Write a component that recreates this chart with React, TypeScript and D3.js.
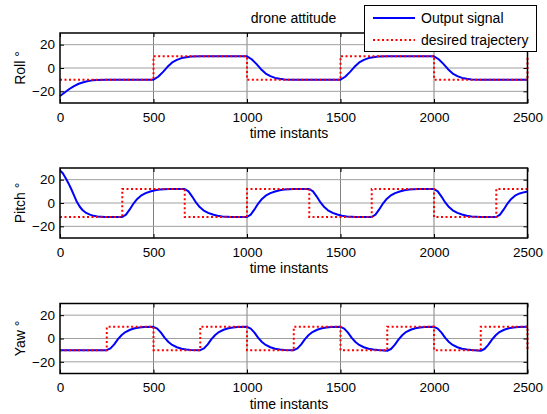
import React, { useRef, useEffect } from "react";
import * as d3 from "d3";

// ---- data ----
const xTicks = [0, 500, 1000, 1500, 2000, 2500];
const yTicks = [-20, 0, 20];

// [time instant, degrees]
const rollOutput: [number, number][] = [
  [0, -24], [25, -21], [50, -18], [75, -15.5], [100, -13.5], [125, -12.2], [150, -11.2], [175, -10.6], [200, -10.2], [250, -10], [500, -10],
  [525, -7.5], [550, -3.5], [575, 1], [600, 4.8], [625, 7], [650, 8.5], [675, 9.3], [700, 9.8], [750, 10], [1000, 10],
  [1025, 7.5], [1050, 3.5], [1075, -1], [1100, -4.8], [1125, -7], [1150, -8.5], [1175, -9.3], [1200, -9.8], [1250, -10], [1500, -10],
  [1525, -7.5], [1550, -3.5], [1575, 1], [1600, 4.8], [1625, 7], [1650, 8.5], [1675, 9.3], [1700, 9.8], [1750, 10], [2000, 10],
  [2025, 7.5], [2050, 3.5], [2075, -1], [2100, -4.8], [2125, -7], [2150, -8.5], [2175, -9.3], [2200, -9.8], [2250, -10], [2500, -10],
];
const rollDesired: [number, number][] = [
  [0, -10], [500, 10], [1000, -10], [1500, 10], [2000, -10], [2500, 10],
];

const pitchOutput: [number, number][] = [
  [0, 28], [15, 25.5], [30, 21.5], [45, 17], [60, 12], [75, 6.5], [90, 1], [105, -3], [120, -6], [140, -8.5], [160, -10], [180, -11], [200, -11.5], [240, -12], [333, -12],
  [353, -10], [373, -5.5], [393, -0.5], [413, 3.5], [433, 6.3], [458, 8.5], [483, 9.9], [508, 10.9], [533, 11.5], [583, 12], [667, 12],
  [687, 10], [707, 5.5], [727, 0.5], [747, -3.5], [767, -6.3], [792, -8.5], [817, -9.9], [842, -10.9], [867, -11.5], [917, -12], [1000, -12],
  [1020, -10], [1040, -5.5], [1060, -0.5], [1080, 3.5], [1100, 6.3], [1125, 8.5], [1150, 9.9], [1175, 10.9], [1200, 11.5], [1250, 12], [1333, 12],
  [1353, 10], [1373, 5.5], [1393, 0.5], [1413, -3.5], [1433, -6.3], [1458, -8.5], [1483, -9.9], [1508, -10.9], [1533, -11.5], [1583, -12], [1667, -12],
  [1687, -10], [1707, -5.5], [1727, -0.5], [1747, 3.5], [1767, 6.3], [1792, 8.5], [1817, 9.9], [1842, 10.9], [1867, 11.5], [1917, 12], [2000, 12],
  [2020, 10], [2040, 5.5], [2060, 0.5], [2080, -3.5], [2100, -6.3], [2125, -8.5], [2150, -9.9], [2175, -10.9], [2200, -11.5], [2250, -12], [2333, -12],
  [2353, -10], [2373, -5.5], [2393, -0.5], [2413, 3.5], [2433, 6.3], [2458, 8.2], [2483, 9.3], [2500, 9.8],
];
const pitchDesired: [number, number][] = [
  [0, -12], [333, 12], [667, -12], [1000, 12], [1333, -12], [1667, 12], [2000, -12], [2333, 12], [2500, 12],
];

const yawOutput: [number, number][] = [
  [0, -10], [250, -10],
  [270, -8.5], [290, -5], [310, -0.5], [330, 3], [350, 5.5], [375, 7.5], [400, 8.8], [425, 9.5], [450, 9.8], [500, 10],
  [520, 8.5], [540, 5], [560, 0.5], [580, -3], [600, -5.5], [625, -7.5], [650, -8.8], [675, -9.5], [700, -9.8], [750, -10],
  [770, -8.5], [790, -5], [810, -0.5], [830, 3], [850, 5.5], [875, 7.5], [900, 8.8], [925, 9.5], [950, 9.8], [1000, 10],
  [1020, 8.5], [1040, 5], [1060, 0.5], [1080, -3], [1100, -5.5], [1125, -7.5], [1150, -8.8], [1175, -9.5], [1200, -9.8], [1250, -10],
  [1270, -8.5], [1290, -5], [1310, -0.5], [1330, 3], [1350, 5.5], [1375, 7.5], [1400, 8.8], [1425, 9.5], [1450, 9.8], [1500, 10],
  [1520, 8.5], [1540, 5], [1560, 0.5], [1580, -3], [1600, -5.5], [1625, -7.5], [1650, -8.8], [1675, -9.5], [1700, -9.9], [1750, -10.5],
  [1770, -9], [1790, -5.5], [1810, -1], [1830, 2.8], [1850, 5.5], [1875, 7.5], [1900, 8.8], [1925, 9.5], [1950, 9.8], [2000, 10],
  [2020, 8.5], [2040, 5], [2060, 0.5], [2080, -3], [2100, -5.5], [2125, -7.5], [2150, -8.8], [2175, -9.5], [2200, -9.9], [2250, -10.5],
  [2270, -9], [2290, -5.5], [2310, -1], [2330, 2.8], [2350, 5.5], [2375, 7.5], [2400, 8.8], [2425, 9.5], [2450, 9.8], [2500, 10],
];
const yawDesired: [number, number][] = [
  [0, -10], [250, 10], [500, -10], [750, 10], [1000, -10], [1250, 10], [1500, -10], [1750, 10], [2000, -10], [2250, 10], [2500, -10],
];

const panels = [
  { label: "Roll °", top: 33, output: rollOutput, desired: rollDesired },
  { label: "Pitch °", top: 168, output: pitchOutput, desired: pitchDesired },
  { label: "Yaw °", top: 303.5, output: yawOutput, desired: yawDesired },
];

const W = 547;
const H = 414;
const left = 60;
const right = 527.5;
const ph = 70;
const font = "'Liberation Sans', Arial, sans-serif";
const blue = "#0000ff";
const red = "#ff0000";

const App = () => {
  const ref = useRef<SVGSVGElement>(null);

  useEffect(() => {
    const svg = d3.select(ref.current);
    svg.selectAll("*").remove();

    const x = d3.scaleLinear().domain([0, 2500]).range([left, right]);

    panels.forEach((p) => {
      const y = d3.scaleLinear().domain([-30, 30]).range([p.top + ph, p.top]);
      const g = svg.append("g");

      // grid
      g.selectAll(".vgrid")
        .data(xTicks.slice(1, -1))
        .enter()
        .append("line")
        .attr("x1", (d) => x(d))
        .attr("x2", (d) => x(d))
        .attr("y1", p.top)
        .attr("y2", p.top + ph)
        .attr("stroke", "#808080")
        .attr("stroke-width", 1);
      g.selectAll(".hgrid")
        .data(yTicks)
        .enter()
        .append("line")
        .attr("x1", left)
        .attr("x2", right)
        .attr("y1", (d) => y(d))
        .attr("y2", (d) => y(d))
        .attr("stroke", "#a0a0a0")
        .attr("stroke-width", 1);

      // axes (inward ticks)
      const bottom = g
        .append("g")
        .attr("transform", `translate(0,${p.top + ph})`)
        .call(
          d3.axisBottom(x).tickValues(xTicks).tickFormat(d3.format("d")).tickSizeInner(-4).tickSizeOuter(0).tickPadding(9)
        );
      const top = g
        .append("g")
        .attr("transform", `translate(0,${p.top})`)
        .call(d3.axisTop(x).tickValues(xTicks).tickSizeInner(-4).tickSizeOuter(0).tickFormat(() => ""));
      const leftAx = g
        .append("g")
        .attr("transform", `translate(${left},0)`)
        .call(d3.axisLeft(y).tickValues(yTicks).tickSizeInner(-4).tickSizeOuter(0).tickPadding(5));
      const rightAx = g
        .append("g")
        .attr("transform", `translate(${right},0)`)
        .call(d3.axisRight(y).tickValues(yTicks).tickSizeInner(-4).tickSizeOuter(0).tickFormat(() => ""));
      [bottom, top, leftAx, rightAx].forEach((a) => {
        a.select(".domain").remove();
        a.attr("font-family", font).attr("font-size", 13.5);
        a.selectAll("line").attr("stroke", "#000");
        a.selectAll("text").attr("fill", "#000");
      });

      // output signal
      const line = d3
        .line<[number, number]>()
        .x((d) => x(d[0]))
        .y((d) => y(d[1]));
      g.append("path")
        .datum(p.output)
        .attr("d", line)
        .attr("fill", "none")
        .attr("stroke", blue)
        .attr("stroke-width", 2)
        .attr("stroke-linejoin", "round");

      // desired trajectory
      const step = d3
        .line<[number, number]>()
        .x((d) => x(d[0]))
        .y((d) => y(d[1]))
        .curve(d3.curveStepAfter);
      g.append("path")
        .datum(p.desired)
        .attr("d", step)
        .attr("fill", "none")
        .attr("stroke", red)
        .attr("stroke-width", 2)
        .attr("stroke-dasharray", "2,2.5");

      // box
      g.append("rect")
        .attr("x", left)
        .attr("y", p.top)
        .attr("width", right - left)
        .attr("height", ph)
        .attr("fill", "none")
        .attr("stroke", "#000")
        .attr("stroke-width", 1.5);

      // labels
      g.append("text")
        .attr("x", 289)
        .attr("y", p.top + ph + 35)
        .attr("text-anchor", "middle")
        .attr("font-family", font)
        .attr("font-size", 14)
        .text("time instants");
      g.append("text")
        .attr("transform", `translate(25,${p.top + ph / 2}) rotate(-90)`)
        .attr("text-anchor", "middle")
        .attr("font-family", font)
        .attr("font-size", 14)
        .text(p.label);
    });

    // title
    svg.append("text")
      .attr("x", 293.5)
      .attr("y", 23)
      .attr("text-anchor", "middle")
      .attr("font-family", font)
      .attr("font-size", 14)
      .text("drone attitude");

    // legend
    const lg = svg.append("g");
    lg.append("rect")
      .attr("x", 364.5)
      .attr("y", 5.5)
      .attr("width", 172)
      .attr("height", 46)
      .attr("fill", "#fff")
      .attr("stroke", "#000")
      .attr("stroke-width", 1);
    const items = [
      { name: "Output signal", color: blue, dash: null, y: 18 },
      { name: "desired trajectery", color: red, dash: "2,2.5", y: 40 },
    ];
    items.forEach((it) => {
      lg.append("line")
        .attr("x1", 373)
        .attr("x2", 415)
        .attr("y1", it.y)
        .attr("y2", it.y)
        .attr("stroke", it.color)
        .attr("stroke-width", 2)
        .attr("stroke-dasharray", it.dash);
      lg.append("text")
        .attr("x", 421)
        .attr("y", it.y + 5)
        .attr("font-family", font)
        .attr("font-size", 14)
        .text(it.name);
    });
  }, []);

  return (
    <svg
      ref={ref}
      width={W}
      height={H}
      style={{ position: "absolute", left: 0, top: 0, background: "#fff" }}
    ></svg>
  );
};

export default App;
